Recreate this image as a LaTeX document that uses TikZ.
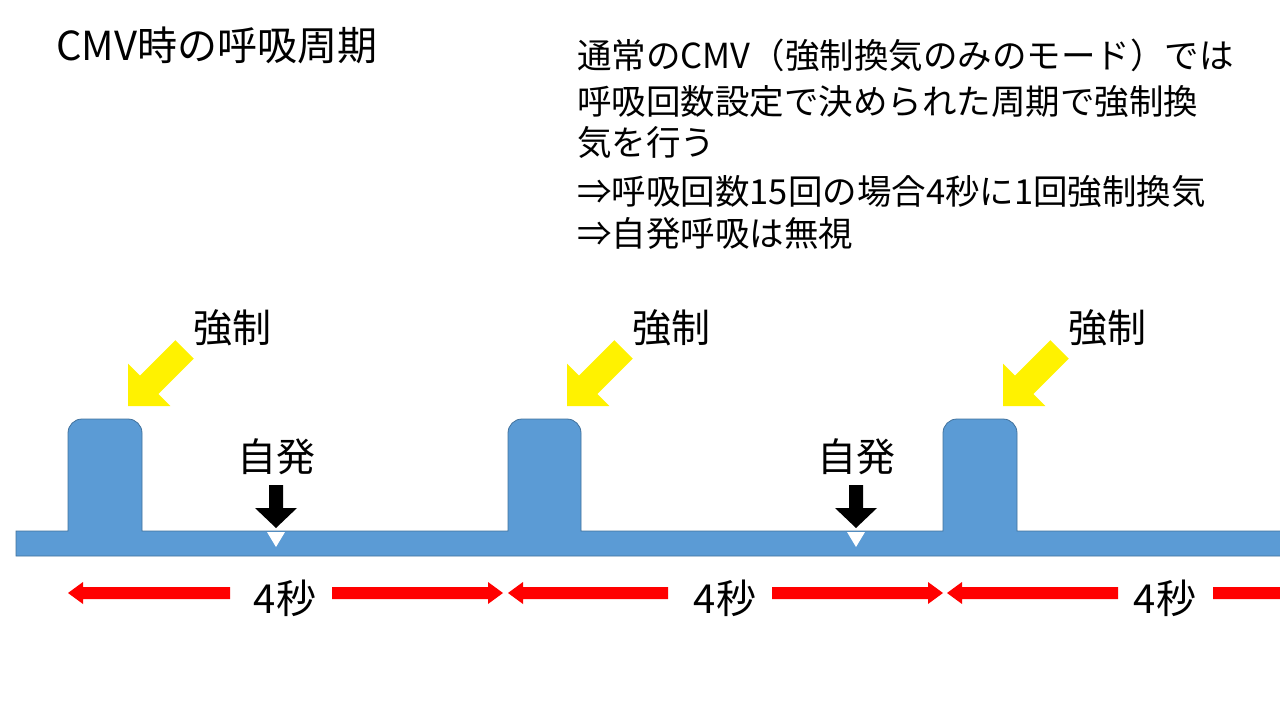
\documentclass[tikz,border=0pt]{standalone}
\usepackage{fontspec}
\setmainfont{Noto Sans CJK JP}
\begin{document}
\begin{tikzpicture}[x=1pt,y=-1pt,
  wave/.style={fill={rgb,255:red,91;green,155;blue,213},draw={rgb,255:red,65;green,113;blue,156},line width=0.8pt},
  lbl/.style={inner sep=0pt,font=\fontsize{39}{44}\selectfont},
  note/.style={inner sep=0pt,anchor=west,font=\fontsize{34.5}{40}\selectfont},
  yarrow/.style={fill=yellow},
  rarrow/.style={fill=red},
]
\useasboundingbox (0,0) rectangle (1280,720);
% title
\node[note,font=\fontsize{40}{46}\selectfont] (title) at (56,45) {CMV時の呼吸周期};
\node[note] (t1) at (577,55) {通常のCMV（強制換気のみのモード）では};
\node[note] (t2) at (577,101) {呼吸回数設定で決められた周期で強制換};
\node[note] (t3) at (577,142) {気を行う};
\node[note] (t4) at (577,191) {⇒呼吸回数15回の場合4秒に1回強制換気};
\node[note] (t5) at (577,233) {⇒自発呼吸は無視};
% waveform
\path[wave] (16,556) -- (16,531) -- (68,531) -- (68,433) arc[start angle=180,end angle=270,radius=14] -- (128,419) arc[start angle=270,end angle=360,radius=14] -- (142,531)
 -- (508,531) -- (508,433) arc[start angle=180,end angle=270,radius=14] -- (567,419) arc[start angle=270,end angle=360,radius=14] -- (581,531)
 -- (943,531) -- (943,433) arc[start angle=180,end angle=270,radius=14] -- (1003,419) arc[start angle=270,end angle=360,radius=14] -- (1017,531)
 -- (1281,531) -- (1281,556) -- cycle;
% notches
\foreach \x in {276,856}{\fill[white] (\x-9,532) -- (\x+9,532) -- (\x,547) -- cycle;}
% spontaneous arrows
\foreach \x/\n in {276/a,856/b}{
  \node[lbl] (s\n) at (\x,457) {自発};
  \fill (\x-7,485) -- (\x+7,485) -- (\x+7,508) -- (\x+21,508) -- (\x,528) -- (\x-21,508) -- (\x-7,508) -- cycle;
}
% forced labels and yellow arrows
\foreach \x/\n in {128/a,567/b,1003/c}{
  \node[lbl] (f\n) at (\x+104,328) {強制};
  \begin{scope}[shift={(\x,406)},rotate=45]
    \fill[yarrow] (0,0) -- (30,-30) -- (30,-13) -- (80,-13) -- (80,13) -- (30,13) -- (30,30) -- cycle;
  \end{scope}
}
% red arrows
\foreach \a/\b/\c/\d/\m/\n in {68/230/332/503/285/a,508/668/772/943/725/b,947/1118/1213/1300/1165/c}{
  \node[lbl,font=\fontsize{40}{44}\selectfont] (d\n) at (\m,598) {4秒};
  \fill[rarrow] (\a,593) -- (\a+15,582) -- (\a+15,587) -- (\b,587) -- (\b,599) -- (\a+15,599) -- (\a+15,604) -- cycle;
  \fill[rarrow] (\d,593) -- (\d-15,582) -- (\d-15,587) -- (\c,587) -- (\c,599) -- (\d-15,599) -- (\d-15,604) -- cycle;
}
\end{tikzpicture}
\end{document}
